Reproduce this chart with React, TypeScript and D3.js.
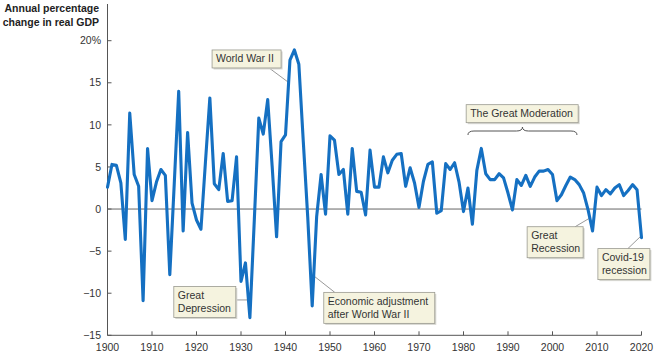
import React from "react";
import * as d3 from "d3";

const years: number[] = [
  1900, 1901, 1902, 1903, 1904, 1905, 1906, 1907, 1908, 1909,
  1910, 1911, 1912, 1913, 1914, 1915, 1916, 1917, 1918, 1919,
  1920, 1921, 1922, 1923, 1924, 1925, 1926, 1927, 1928, 1929,
  1930, 1931, 1932, 1933, 1934, 1935, 1936, 1937, 1938, 1939,
  1940, 1941, 1942, 1943, 1944, 1945, 1946, 1947, 1948, 1949,
  1950, 1951, 1952, 1953, 1954, 1955, 1956, 1957, 1958, 1959,
  1960, 1961, 1962, 1963, 1964, 1965, 1966, 1967, 1968, 1969,
  1970, 1971, 1972, 1973, 1974, 1975, 1976, 1977, 1978, 1979,
  1980, 1981, 1982, 1983, 1984, 1985, 1986, 1987, 1988, 1989,
  1990, 1991, 1992, 1993, 1994, 1995, 1996, 1997, 1998, 1999,
  2000, 2001, 2002, 2003, 2004, 2005, 2006, 2007, 2008, 2009,
  2010, 2011, 2012, 2013, 2014, 2015, 2016, 2017, 2018, 2019,
  2020,
];

const gdpGrowth: number[] = [
  2.6, 5.3, 5.2, 3.1, -3.6, 11.4, 4.1, 2.7, -10.9, 7.2,
  1.0, 3.2, 4.7, 4.0, -7.8, 3.0, 14.0, -2.6, 9.1, 0.7,
  -1.3, -2.4, 5.5, 13.2, 3.0, 2.3, 6.6, 0.9, 1.0, 6.2,
  -8.6, -6.4, -12.9, -1.2, 10.8, 8.9, 13.0, 5.1, -3.3, 8.0,
  8.8, 17.7, 18.9, 17.2, 8.0, -1.0, -11.5, -0.9, 4.1, -0.6,
  8.7, 8.2, 4.1, 4.7, -0.6, 7.2, 2.1, 2.0, -0.7, 7.0,
  2.6, 2.6, 6.2, 4.3, 5.8, 6.5, 6.6, 2.7, 4.9, 3.1,
  0.2, 3.3, 5.3, 5.6, -0.5, -0.2, 5.4, 4.7, 5.5, 3.2,
  -0.3, 2.5, -1.8, 4.6, 7.2, 4.2, 3.5, 3.5, 4.2, 3.7,
  1.9, -0.1, 3.5, 2.8, 4.0, 2.7, 3.8, 4.5, 4.5, 4.7,
  4.1, 1.0, 1.7, 2.8, 3.8, 3.5, 2.9, 1.9, -0.1, -2.6,
  2.6, 1.6, 2.3, 1.8, 2.5, 2.9, 1.6, 2.2, 2.9, 2.3,
  -3.4,
];

const xTicks: number[] = [1900, 1910, 1920, 1930, 1940, 1950, 1960, 1970, 1980, 1990, 2000, 2010, 2020];
const yTicks: number[] = [20, 15, 10, 5, 0, -5, -10, -15];
const yTickLabels: string[] = ["20%", "15", "10", "5", "0", "\u22125", "\u221210", "\u221215"];
const yTitle: string[] = ["Annual percentage", "change in real GDP"];

// annotation text and anchoring (data coordinates)
const annoLines: string[][] = [
  ["World War II"],
  ["Great", "Depression"],
  ["Economic adjustment", "after World War II"],
  ["The Great Moderation"],
  ["Great", "Recession"],
  ["Covid-19", "recession"],
];
const annoBoxYear: number[] = [1923.5, 1914.9, 1948.6, 1980.6, 1994.3, 2010.2];
const annoBoxValue: number[] = [18.9, -9.2, -9.9, 12.4, -2.1, -4.7];
const annoTargetYear: (number | null)[] = [1940.8, 1931.4, 1946.5, null, 2008.6, 2019.7];
const annoTargetValue: (number | null)[] = [15.0, -10.8, -8.0, null, -1.0, -3.3];
const braceYears: number[] = [1981, 2005.5];

const W = 659;
const H = 362;
const FONT = "'Liberation Sans', Arial, Helvetica, sans-serif";

export default function App() {
  const x = d3.scaleLinear().domain([1900, 2020]).range([107.5, 641.5]);
  const y = d3.scaleLinear().domain([-15, 20]).range([335.3, 40.7]);

  const pts: [number, number][] = years.map((yr, i) => [yr, gdpGrowth[i]]);
  const line = d3
    .line<[number, number]>()
    .x((d) => x(d[0]))
    .y((d) => y(d[1]))
    .curve(d3.curveLinear);

  const boxW: number[] = [69, 62, 111, 112, 56, 52];
  const lineH = 13;

  const x0 = x(1900);
  const x1 = x(2020);
  const yBottom = y(-15);

  // brace path
  const bx0 = x(braceYears[0]);
  const bx1 = x(braceYears[1]);
  const bm = (bx0 + bx1) / 2;
  const by = 131;
  const bh = 4;
  const bracePath = `M${bx0},${by + bh} Q${bx0},${by} ${bx0 + 6},${by} L${bm - 6},${by} Q${bm},${by} ${bm},${by - bh} Q${bm},${by} ${bm + 6},${by} L${bx1 - 6},${by} Q${bx1},${by} ${bx1},${by + bh}`;

  return (
    <svg
      width={W}
      height={H}
      style={{ position: "absolute", left: 0, top: 0, background: "#fff" }}
      fontFamily={FONT}
    >
      {/* y axis title */}
      {yTitle.map((t, i) => (
        <text
          key={t}
          x={99}
          y={12 + i * 14}
          textAnchor="end"
          fontSize={10.5}
          fontWeight="bold"
          fill="#222"
        >
          {t}
        </text>
      ))}

      {/* axes */}
      <line x1={x0} x2={x0} y1={4} y2={yBottom} stroke="#555" strokeWidth={1} />
      <line x1={x0} x2={x1} y1={yBottom} y2={yBottom} stroke="#555" strokeWidth={1} />
      {yTicks.map((t, i) => (
        <g key={t}>
          <line x1={x0} x2={x0 + 4} y1={y(t)} y2={y(t)} stroke="#555" />
          <text
            x={101}
            y={y(t)}
            dy="0.35em"
            textAnchor="end"
            fontSize={10.5}
            fill="#333"
          >
            {yTickLabels[i]}
          </text>
        </g>
      ))}
      {xTicks.map((t) => (
        <g key={t}>
          <line x1={x(t)} x2={x(t)} y1={yBottom} y2={yBottom - 4} stroke="#555" />
          <text x={x(t)} y={351} textAnchor="middle" fontSize={10.5} fill="#333">
            {t}
          </text>
        </g>
      ))}

      {/* zero line */}
      <line x1={x0} x2={x1} y1={y(0)} y2={y(0)} stroke="#666" strokeWidth={1} />

      {/* callout leader lines */}
      {annoLines.map((lines, i) => {
        const ty = annoTargetYear[i];
        const tv = annoTargetValue[i];
        if (ty === null || tv === null) return null;
        const bxL = x(annoBoxYear[i]);
        const byT = y(annoBoxValue[i]);
        const bw = boxW[i];
        const bhh = lines.length * lineH + 5;
        const tx = x(ty);
        const tyy = y(tv);
        const cx = Math.max(bxL, Math.min(bxL + bw, tx));
        const cy = Math.max(byT, Math.min(byT + bhh, tyy));
        let sx = cx;
        let sy = cy;
        if (i === 0) {
          sx = bxL + bw - 12;
          sy = byT + bhh;
        } else if (i === 2) {
          sx = bxL + 11;
          sy = byT;
        } else if (i === 4) {
          sx = bxL + bw - 8;
          sy = byT;
        } else if (i === 5) {
          sx = bxL + 30;
          sy = byT;
        }
        return (
          <line key={"l" + i} x1={sx} y1={sy} x2={tx} y2={tyy} stroke="#999" strokeWidth={1} />
        );
      })}

      {/* data line */}
      <path
        d={line(pts) || ""}
        fill="none"
        stroke="#1570c2"
        strokeWidth={3.1}
        strokeLinejoin="round"
        strokeLinecap="round"
      />

      {/* brace */}
      <path d={bracePath} fill="none" stroke="#555" strokeWidth={1} />

      {/* annotation boxes */}
      {annoLines.map((lines, i) => {
        const bxL = x(annoBoxYear[i]);
        const byT = y(annoBoxValue[i]);
        const bw = boxW[i];
        const bhh = lines.length * lineH + 5;
        return (
          <g key={"b" + i}>
            <rect x={bxL + 1.5} y={byT + 1.5} width={bw} height={bhh} fill="#d6d6d0" />
            <rect x={bxL} y={byT} width={bw} height={bhh} fill="#f5f3df" stroke="#9a9a90" strokeWidth={0.8} />
            {lines.map((t, j) => (
              <text
                key={t}
                x={bxL + 4}
                y={byT + 12.5 + j * lineH}
                fontSize={10.5}
                fill="#333"
              >
                {t}
              </text>
            ))}
          </g>
        );
      })}
    </svg>
  );
}
